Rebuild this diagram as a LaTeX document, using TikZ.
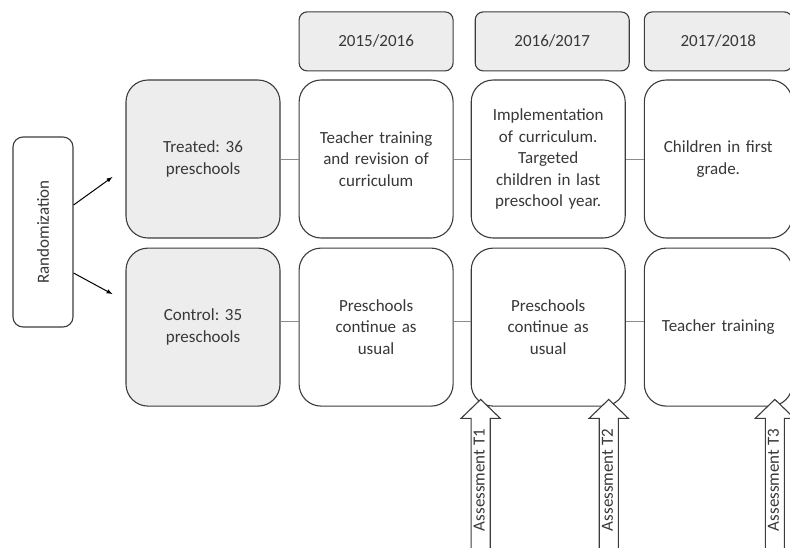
\documentclass[tikz,border=0pt]{standalone}
\usepackage{fontspec}
\setmainfont{Carlito}
\frenchspacing
\usetikzlibrary{positioning, shapes.arrows, arrows}
\definecolor{tlText}{HTML}{383838}
\definecolor{tlLine}{HTML}{3C3C3C}
\definecolor{tlFill}{HTML}{EDEDED}
\definecolor{tlLink}{HTML}{8C8C8C}
\tikzset{
    tlBoxBase/.style={
        rectangle,
        draw=tlLine,
        line width=1.1pt,
        rounded corners=22pt,
        minimum width=154pt,
        minimum height=158pt,
        text width=140pt,
        align=center,
        font=\fontsize{17}{21.5}\selectfont,
        text=tlText,
        inner sep=4pt
    },
    % Variants
    group/.style={tlBoxBase, fill=tlFill},
    phase/.style={tlBoxBase, fill=white},
    year/.style={tlBoxBase, fill=tlFill, rounded corners=8pt, minimum height=59pt},
    randbox/.style={tlBoxBase, fill=white, rounded corners=10pt, minimum width=60pt, minimum height=190pt, text width=, inner sep=0pt},
    assess/.style={
        single arrow,
        draw=tlLine,
        line width=1.1pt,
        fill=white,
        rotate=90,
        single arrow head extend=10pt,
        single arrow tip angle=92,
        minimum height=152pt,
        inner xsep=2pt,
        inner ysep=2pt,
        text height=11pt,
        text depth=3pt,
        font=\fontsize{17}{20}\selectfont,
        text=tlText
    },
    % Arrows
    tlArrow/.style={->, line width=1pt, >=latex, draw=black},
    tlLink/.style={draw=tlLink, line width=1pt}
}
\begin{document}
\begin{tikzpicture}[x=1pt, y=-1pt]
\useasboundingbox (0,0) rectangle (790,547);

\node[randbox] (rand) at (43,232) {\rotatebox{90}{Randomization}};

\node[group] (treated) at (203,159) {Treated: 36\\preschools};
\node[group, below=9pt of treated] (control) {Control: 35\\preschools};

\node[phase, right=18pt of treated] (t2) {Teacher training\\and revision of\\curriculum};
\node[phase, right=17pt of t2] (t3) {Implementation\\of curriculum.\\Targeted\\children in last\\preschool year.};
\node[phase, right=18pt of t3, minimum width=148pt, text width=136pt] (t4) {Children in first\\grade.};

\node[phase, right=18pt of control] (c2) {Preschools\\continue as\\usual};
\node[phase, right=17pt of c2] (c3) {Preschools\\continue as\\usual};
\node[phase, right=18pt of c3, minimum width=148pt, text width=136pt] (c4) {Teacher training};

\node[year, above=8pt of t2] (y1) {2015/2016};
\node[year, above=8pt of t3, xshift=4pt] (y2) {2016/2017};
\node[year, above=8pt of t4, minimum width=148pt, text width=136pt] (y3) {2017/2018};

\draw[tlArrow] ([yshift=27pt]rand.east) -- ([xshift=-13pt, yshift=-18pt]treated.west);
\draw[tlArrow] ([yshift=-41pt]rand.east) -- ([xshift=-13pt, yshift=33pt]control.west);

\draw[tlLink] (treated) -- (t2);
\draw[tlLink] (t2) -- (t3);
\draw[tlLink] (t3) -- (t4);
\draw[tlLink] ([yshift=6pt]control.east) -- ([yshift=6pt]c2.west);
\draw[tlLink] ([yshift=6pt]c2.east) -- ([yshift=6pt]c3.west);
\draw[tlLink] ([yshift=6pt]c3.east) -- ([yshift=6pt]c4.west);

\node[assess, anchor=tip] (a1) at ([xshift=10pt, yshift=8pt]c3.south west) {Assessment T1};
\node[assess, anchor=tip] (a2) at ([xshift=-17pt, yshift=8pt]c3.south east) {Assessment T2};
\node[assess, anchor=tip] (a3) at ([xshift=-18pt, yshift=8pt]c4.south east) {Assessment T3};
\end{tikzpicture}
\end{document}
